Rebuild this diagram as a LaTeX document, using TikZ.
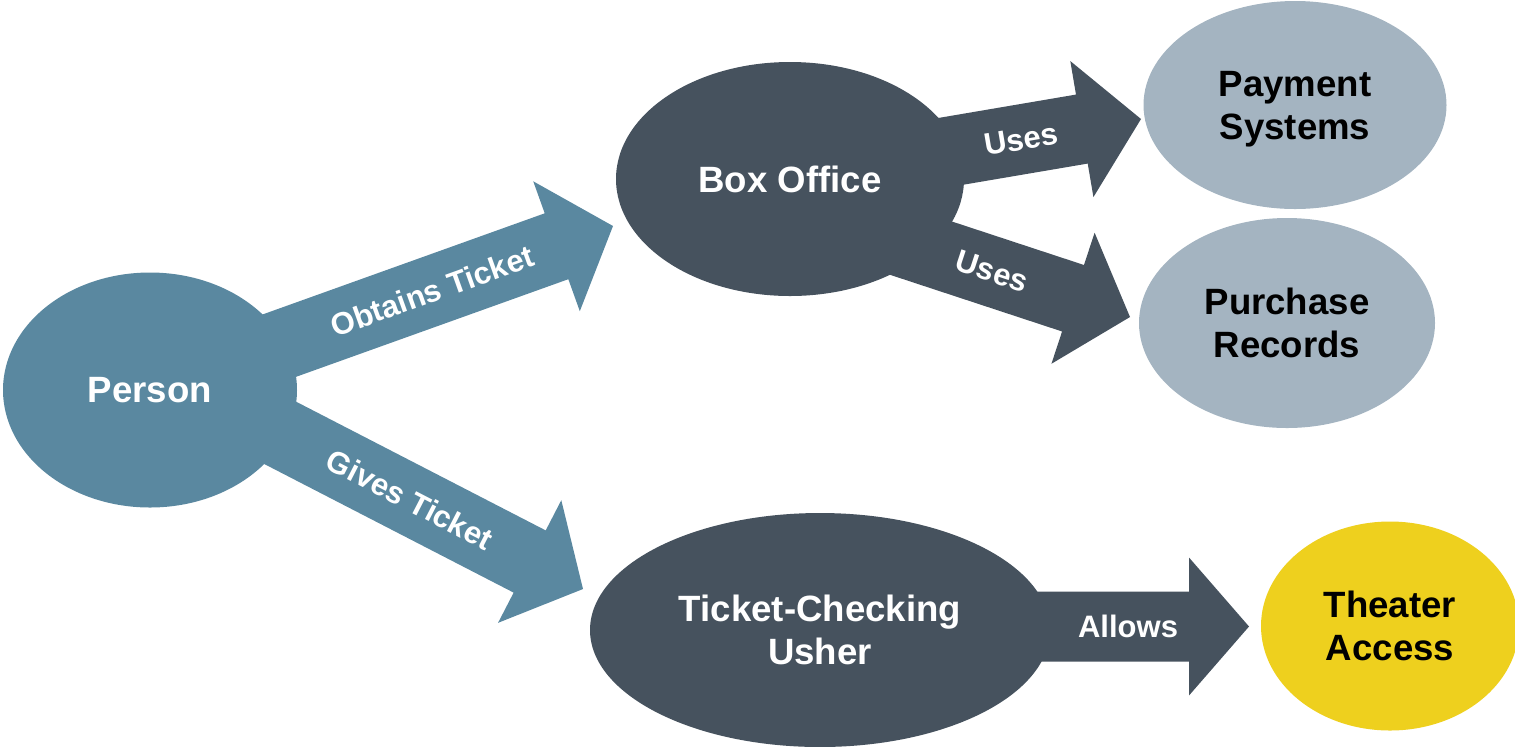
\documentclass[tikz,border=0pt]{standalone}
\usepackage{fontspec}
\setmainfont{Liberation Sans}
\usetikzlibrary{shapes.geometric,calc}
\pgfdeclarelayer{background}
\pgfsetlayers{background,main}

\definecolor{steel}{RGB}{90,136,160}
\definecolor{slate}{RGB}{70,82,94}
\definecolor{mist}{RGB}{164,180,193}
\definecolor{gold}{RGB}{238,208,30}

% Block arrow from #1 to tip #2, fill #3, label #5 at position #4
\newcommand\blockarrow[5]{%
  \coordinate (hb) at ($(#2)!30pt!(#1)$);
  \fill[#3] ($(#1)!17.5pt!90:(#2)$)
    -- ($(hb)!17.5pt!90:(#2)$)
    -- ($(hb)!34.5pt!90:(#2)$)
    -- (#2)
    -- ($(hb)!34.5pt!-90:(#2)$)
    -- ($(hb)!17.5pt!-90:(#2)$)
    -- ($(#1)!17.5pt!-90:(#2)$)
    -- cycle;
  \path (#1) -- (#2) node[arrowlabel, pos=#4] {#5};
}

\begin{document}
\begin{tikzpicture}[x=0.5pt,y=-0.5pt,
  blob/.style={ellipse, inner sep=0pt, align=center, text depth=0pt,
    font=\fontsize{18.3}{21.5}\selectfont\bfseries},
  bluebl/.style={blob, fill=steel, text=white},
  darkbl/.style={blob, fill=slate, text=white},
  lightbl/.style={blob, fill=mist, text=black},
  goldbl/.style={blob, fill=gold, text=black},
  arrowlabel/.style={sloped, inner sep=0pt, text=white,
    font=\fontsize{15.5}{18}\selectfont\bfseries}]

\useasboundingbox (0,0) rectangle (1515,746);

% nodes
\node[bluebl, minimum width=147pt, minimum height=117.5pt] (person) at (150,390) {Person};
\node[darkbl, minimum width=174pt, minimum height=117pt] (box) at (790,179) {Box Office};
\node[lightbl, minimum width=151.5pt, minimum height=104pt] (pay) at (1295,105) {Payment\\Systems};
\node[lightbl, minimum width=148pt, minimum height=105pt] (rec) at (1287,323) {Purchase\\Records};
\node[darkbl, minimum width=230pt, minimum height=117pt] (usher) at (820,630) {Ticket-Checking\\Usher};
\node[goldbl, minimum width=129pt, minimum height=104.5pt] (theater) at (1390,626) {Theater\\Access};

% arrow anchors
\coordinate (obtS) at ($(person.center)+(0,2)$);
\coordinate (obtT) at (613,226);
\coordinate (givS) at ($(person.center)+(51,2)$);
\coordinate (givT) at (583,589);
\coordinate (useAS) at ($(box.center)+(10,-2)$);
\coordinate (useAT) at (1141,119);
\coordinate (useBS) at ($(box.center)+(0,26)$);
\coordinate (useBT) at (1130,317);
\coordinate (allS) at ($(usher.center)+(0,-3.5)$);
\coordinate (allT) at (1249,626.5);

\begin{pgfonlayer}{background}
  \blockarrow{obtS}{obtT}{steel}{0.609}{Obtains Ticket}
  \blockarrow{givS}{givT}{steel}{0.547}{Gives Ticket}
  \blockarrow{useAS}{useAT}{slate}{0.65}{Uses}
  \blockarrow{useBS}{useBT}{slate}{0.594}{Uses}
  \blockarrow{allS}{allT}{slate}{0.718}{Allows}
\end{pgfonlayer}
\end{tikzpicture}
\end{document}
